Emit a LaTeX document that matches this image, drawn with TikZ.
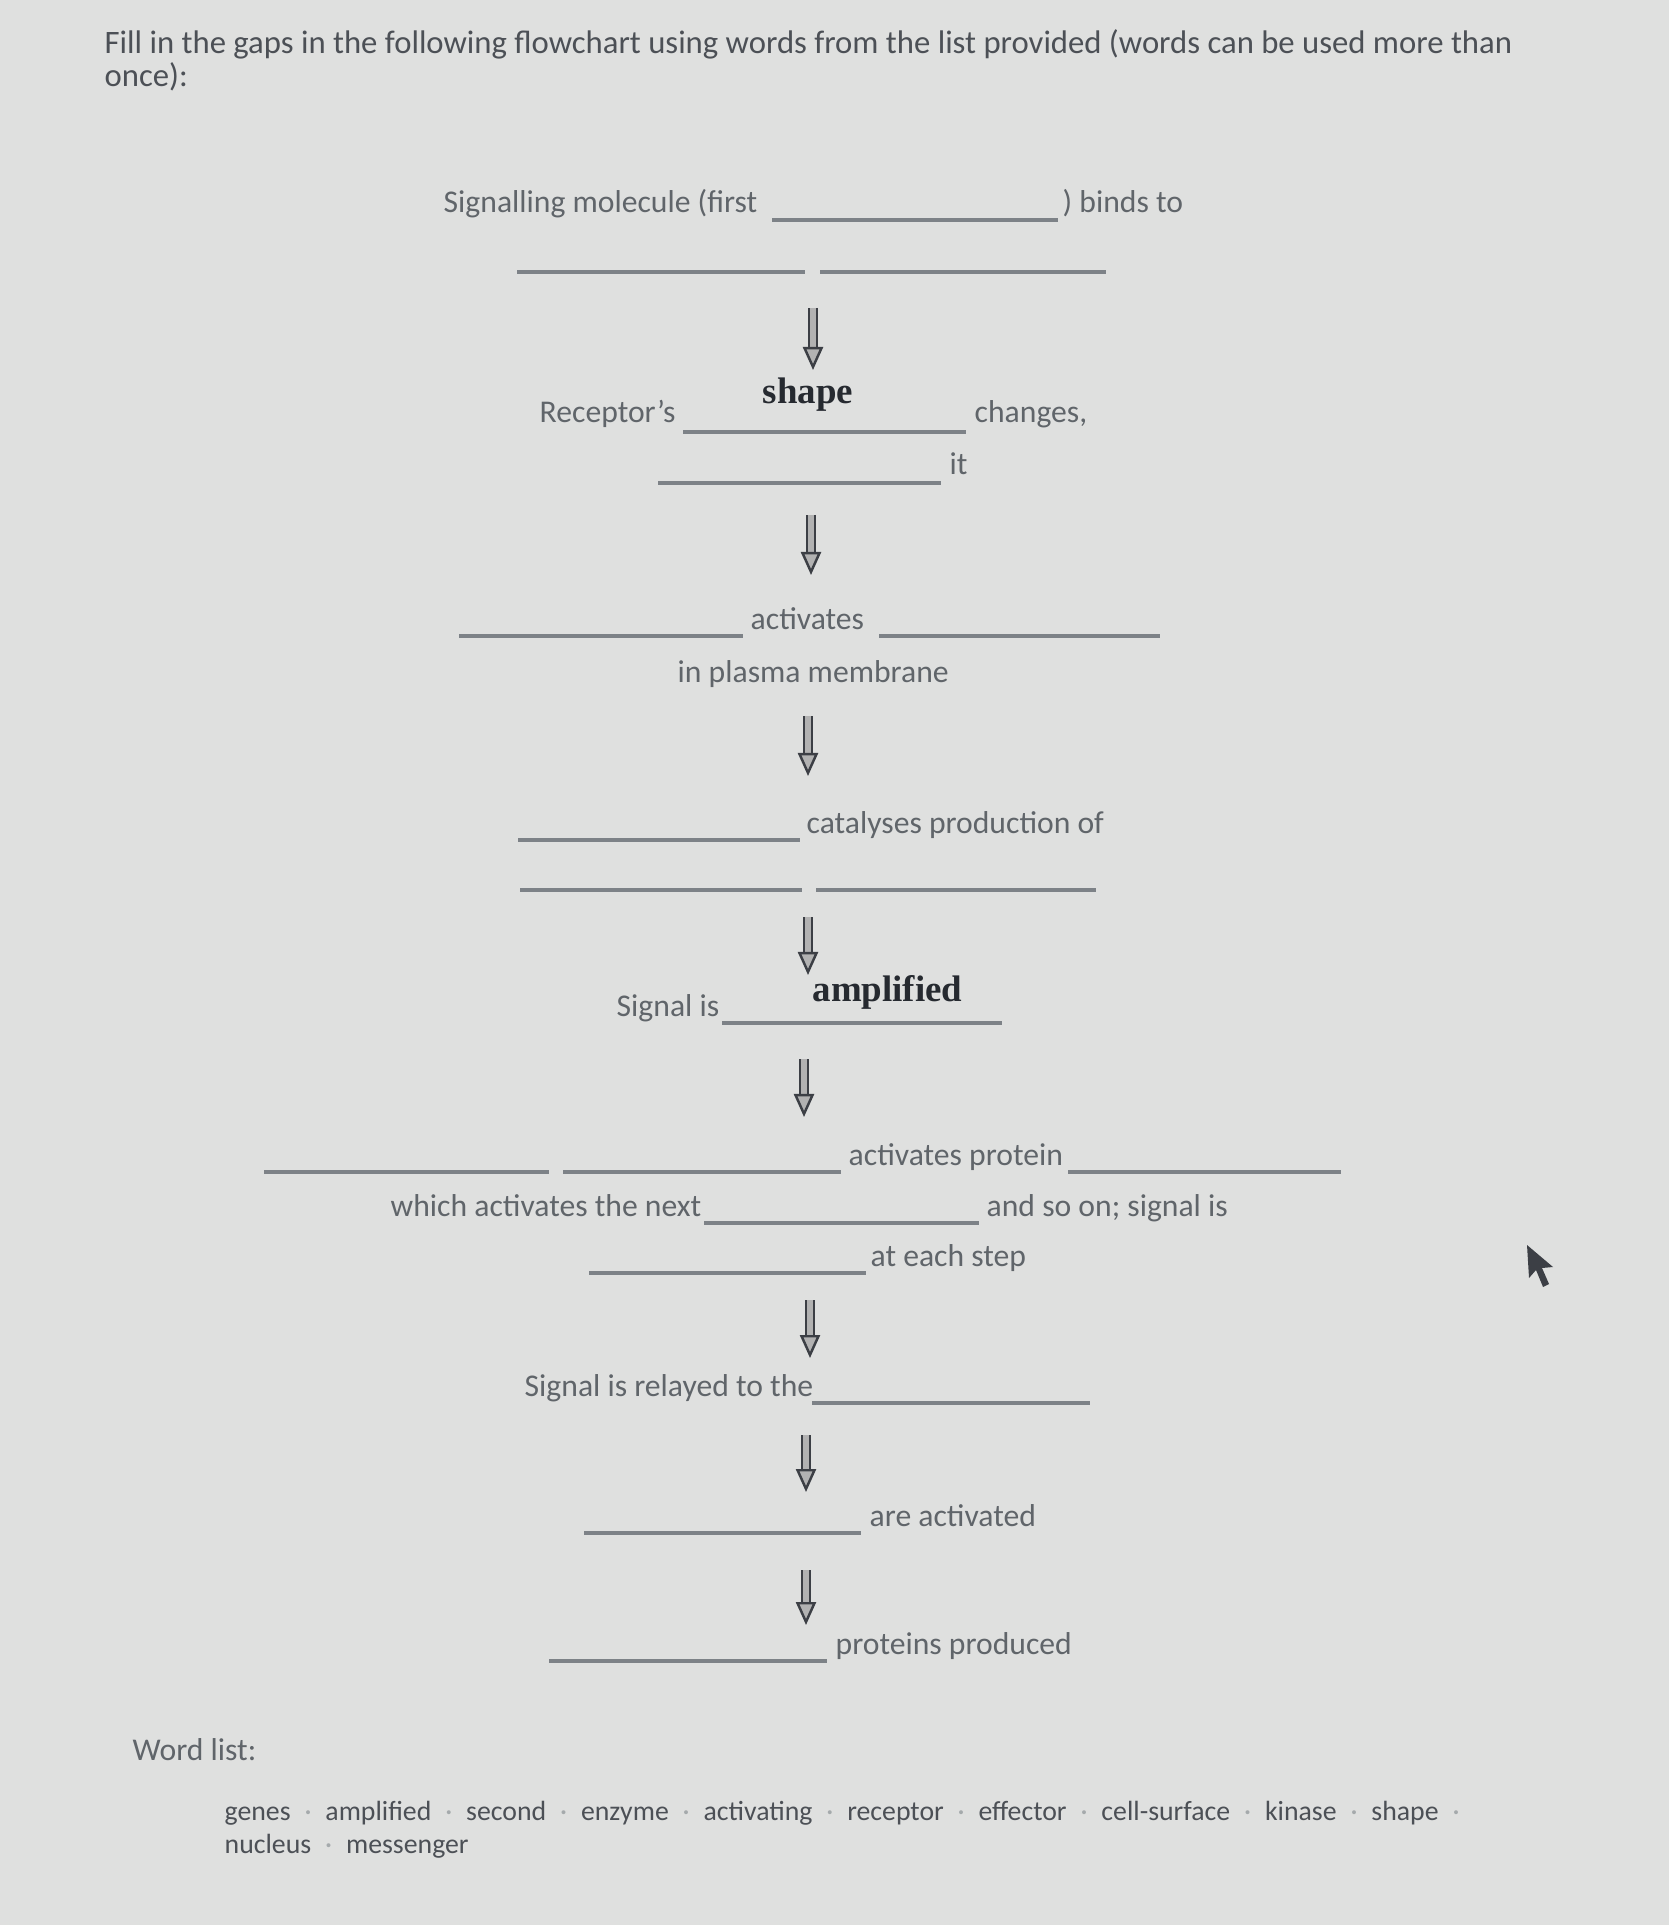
\documentclass[tikz,border=0pt]{standalone}
\usepackage{fontspec}
\setmainfont{Carlito}
\newfontfamily\answerfont{Liberation Serif}
\usepackage{tikz}
\usetikzlibrary{arrows.meta}

\definecolor{paper}{RGB}{223,224,223}
\definecolor{ink}{RGB}{96,101,106}
\definecolor{darkink}{RGB}{76,80,86}
\definecolor{pen}{RGB}{38,42,48}
\definecolor{gapcol}{RGB}{125,130,135}
\definecolor{sepcol}{RGB}{165,170,172}

\newcommand{\wsep}{\enspace\textcolor{sepcol}{·}\enspace}

\begin{document}
\begin{tikzpicture}[
        x=0.01cm, y=-0.01cm,
        txt/.style={anchor=base west, inner sep=0pt, text=ink, font=\fontsize{9}{10}\selectfont},
        title/.style={anchor=base west, inner sep=0pt, text=darkink, font=\fontsize{9.3}{10}\selectfont},
        answer/.style={anchor=base west, inner sep=0pt, text=pen, font=\answerfont\bfseries\fontsize{10.5}{12}\selectfont},
        words/.style={anchor=base west, inner sep=0pt, text=darkink, font=\fontsize{7.9}{9}\selectfont},
        gapline/.style={draw=gapcol, line width=0.9pt},
        flowarrow/.style={draw=pen!90, line width=0.7pt, double=gray!60, double distance=1.6pt,
            -{Triangle[length=2.3mm, width=2mm, fill=gray!60]}}
    ]
        % page
        \fill[paper] (0,0) rectangle (1669,1925);

        \node[title] (task) at (104,54) {Fill in the gaps in the following flowchart using words from the list provided (words can be used more than};
        \node[title] (task2) at (104,87) {once):};

        % step 1
        \node[txt] (bind) at (443,213) {Signalling molecule (first};
        \node[txt] (bindto) at (1062,213) {) binds to};
        \draw[gapline] (772,220) -- (1058,220);
        \draw[gapline] (517,272) -- (805,272);
        \draw[gapline] (820,272) -- (1106,272);

        % step 2
        \node[answer] (shape) at (762,404) {shape};
        \node[txt] (recep) at (539,423) {Receptor's};
        \node[txt] (change) at (974,423) {changes,};
        \draw[gapline] (683,432) -- (966,432);
        \node[txt] (it) at (949,475) {it};
        \draw[gapline] (658,483) -- (941,483);

        % step 3
        \node[txt] (activ) at (750,629) {activates};
        \draw[gapline] (459,636) -- (743,636);
        \draw[gapline] (879,636) -- (1160,636);
        \node[txt] (membr) at (677,682) {in plasma membrane};

        % step 4
        \node[txt] (catal) at (806,833) {catalyses production of};
        \draw[gapline] (518,840) -- (800,840);
        \draw[gapline] (520,890) -- (802,890);
        \draw[gapline] (816,890) -- (1096,890);

        % step 5
        \node[txt] (signal) at (616,1016) {Signal is};
        \node[answer] (ampl) at (812,1001) {amplified};
        \draw[gapline] (722,1023) -- (1002,1023);

        % step 6
        \node[txt] (protein) at (848,1165) {activates protein};
        \draw[gapline] (264,1172) -- (549,1172);
        \draw[gapline] (563,1172) -- (841,1172);
        \draw[gapline] (1068,1172) -- (1341,1172);
        \node[txt] (next) at (390,1216) {which activates the next};
        \node[txt] (soon) at (986,1216) {and so on; signal is};
        \draw[gapline] (704,1223) -- (979,1223);
        \node[txt] (step) at (870,1266) {at each step};
        \draw[gapline] (589,1273) -- (866,1273);

        % step 7
        \node[txt] (relay) at (524,1396) {Signal is relayed to the};
        \draw[gapline] (812,1403) -- (1090,1403);

        % step 8
        \node[txt] (genes) at (869,1526) {are activated};
        \draw[gapline] (584,1533) -- (861,1533);

        % step 9
        \node[txt] (prod) at (835,1654) {proteins produced};
        \draw[gapline] (549,1661) -- (827,1661);

        % arrows between steps
        \coordinate (a1t) at (813,308);  \coordinate (a1b) at (813,370);
        \coordinate (a2t) at (811,515);  \coordinate (a2b) at (811,575);
        \coordinate (a3t) at (808,716);  \coordinate (a3b) at (808,776);
        \coordinate (a4t) at (808,917);  \coordinate (a4b) at (808,975);
        \coordinate (a5t) at (804,1059); \coordinate (a5b) at (804,1117);
        \coordinate (a6t) at (810,1300); \coordinate (a6b) at (810,1358);
        \coordinate (a7t) at (806,1435); \coordinate (a7b) at (806,1492);
        \coordinate (a8t) at (806,1570); \coordinate (a8b) at (806,1625);
        \draw[flowarrow] (a1t) -- (a1b);
        \draw[flowarrow] (a2t) -- (a2b);
        \draw[flowarrow] (a3t) -- (a3b);
        \draw[flowarrow] (a4t) -- (a4b);
        \draw[flowarrow] (a5t) -- (a5b);
        \draw[flowarrow] (a6t) -- (a6b);
        \draw[flowarrow] (a7t) -- (a7b);
        \draw[flowarrow] (a8t) -- (a8b);

        % word list
        \node[txt] (wlhead) at (132,1760) {Word list:};
        \node[words] (wlist) at (224,1820) {genes\wsep amplified\wsep second\wsep enzyme\wsep activating\wsep receptor\wsep effector\wsep cell-surface\wsep kinase\wsep shape\wsep};
        \node[words] (wlist2) at (224,1853) {nucleus\wsep messenger};

        % mouse pointer
        \fill[pen!90] (1527,1245) -- (1529,1278) -- (1536,1270) -- (1543,1287) -- (1549,1284) -- (1542,1268) -- (1553,1267) -- cycle;
    \end{tikzpicture}
\end{document}
